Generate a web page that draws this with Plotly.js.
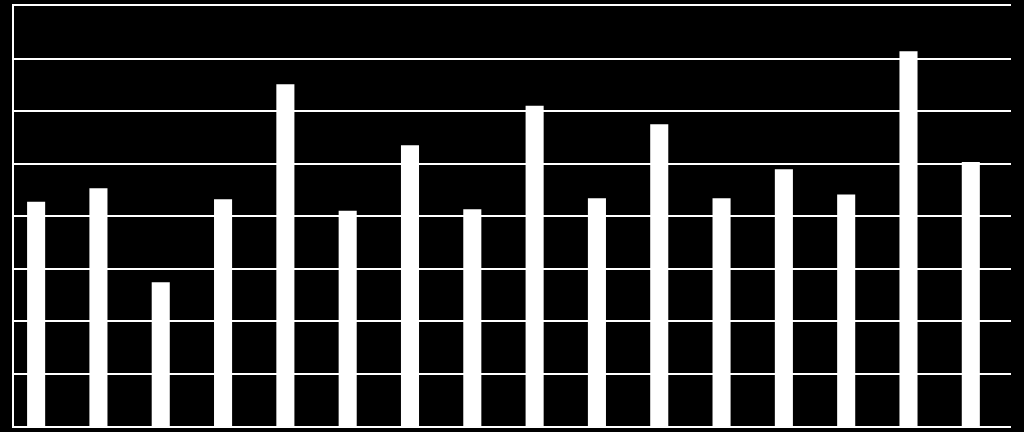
<!DOCTYPE html>
<html>
<head>
<meta charset="utf-8">
<script src="https://cdn.plot.ly/plotly-3.0.1.min.js"></script>
<style>html,body{margin:0;padding:0;background:#000;}#chart{width:1024px;height:432px;}</style>
</head>
<body>
<div id="chart"></div>
<script>
const categories = ["1","2","3","4","5","6","7","8","9","10","11","12","13","14","15","16"];
const values = [4.27, 4.53, 2.74, 4.32, 6.51, 4.10, 5.35, 4.13, 6.10, 4.34, 5.75, 4.34, 4.89, 4.41, 7.14, 5.03];

const trace = {
  type: 'bar',
  x: categories,
  y: values,
  width: 0.29,
  offset: -0.29,
  marker: {color: '#ffffff', line: {width: 0}},
  hoverinfo: 'skip'
};

const layout = {
  width: 1024, height: 432,
  paper_bgcolor: '#000000', plot_bgcolor: '#000000',
  margin: {l: 14, r: 13, t: 6, b: 6, pad: 0},
  showlegend: false,
  xaxis: {
    type: 'category', range: [-0.5, 15.5],
    showgrid: false, zeroline: false, showticklabels: false, ticks: '',
    showline: true, mirror: true, linecolor: '#ffffff', linewidth: 2
  },
  yaxis: {
    range: [0, 8], dtick: 1, tick0: 0,
    showgrid: true, gridcolor: '#ffffff', gridwidth: 2,
    zeroline: false, showticklabels: false, ticks: '',
    showline: true, linecolor: '#ffffff', linewidth: 2
  }
};

Plotly.newPlot('chart', [trace], layout, {displayModeBar: false, staticPlot: true});
</script>
</body>
</html>
